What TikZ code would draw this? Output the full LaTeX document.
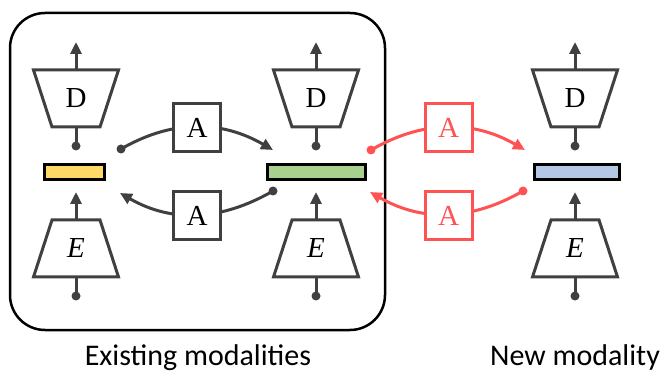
\documentclass[tikz,border=0pt]{standalone}
\usepackage{fontspec}
\newfontfamily\labelfont{Carlito}
\newfontfamily\letterfont{Liberation Serif}
\usetikzlibrary{arrows.meta}
\definecolor{ink}{RGB}{64,64,64}
\definecolor{adapt}{RGB}{255,82,82}
\definecolor{barY}{RGB}{255,217,102}
\definecolor{barG}{RGB}{169,209,142}
\definecolor{barB}{RGB}{180,199,231}
\begin{document}
\begin{tikzpicture}[x=1pt,y=1pt,
  part/.style={draw=ink, line width=3pt, line join=miter, fill=white},
  letter/.style={font=\letterfont\fontsize{29}{30}\selectfont, inner sep=0pt},
  stem/.style={draw=ink, line width=3pt},
  upto/.style={stem, -{Triangle[length=12pt,width=11pt]}},
  dot/.style={circle, fill=#1, inner sep=0pt, minimum size=9pt},
  dot/.default=ink,
  bar/.style={draw=black, line width=3pt, minimum width=#1, minimum height=15pt, inner sep=0pt},
  abox/.style 2 args={draw=#1, text=#2, line width=3pt, fill=white, minimum width=47pt, minimum height=48pt, inner sep=0pt, font=\letterfont\fontsize{29}{30}\selectfont},
  link/.style={draw=#1, line width=3pt, -{Triangle[length=12pt,width=11pt]}},
  caption/.style={font=\labelfont\fontsize{30}{36}\selectfont, inner sep=0pt, anchor=base}]
\useasboundingbox (0,0) rectangle (663,372);

% frame around the existing modalities
\draw[black, line width=2.5pt, rounded corners=35pt] (10,42) rectangle (385,359);

% decoder above and encoder below each latent
\foreach \c/\n in {76/l,316/m,575/r}{
  \draw[part] (\c-42.5,302) -- (\c+42.5,302) -- (\c+24,245) -- (\c-24,245) -- cycle;
  \draw[part] (\c-24,152) -- (\c+24,152) -- (\c+42.5,95) -- (\c-42.5,95) -- cycle;
  \node[letter] (D\n) at (\c,273.5) {D};
  \node[letter] (E\n) at (\c,123.5) {\itshape E};
  \coordinate (Dt\n) at (\c,302);
  \coordinate (Do\n) at (\c,330);
  \coordinate (Db\n) at (\c,245);
  \node[dot] (Di\n) at (\c,226) {};
  \coordinate (Et\n) at (\c,152);
  \coordinate (Eo\n) at (\c,180);
  \coordinate (Eb\n) at (\c,95);
  \node[dot] (Ei\n) at (\c,76) {};
  \draw[upto] (Dt\n) -- (Do\n);
  \draw[stem] (Db\n) -- (Di\n.center);
  \draw[upto] (Et\n) -- (Eo\n);
  \draw[stem] (Eb\n) -- (Ei\n.center);
}

% latent codes
\node[bar=60pt, fill=barY] (zl) at (74.5,200) {};
\node[bar=98pt, fill=barG] (zm) at (316.5,200) {};
\node[bar=85pt, fill=barB] (zr) at (577,200) {};

% adapters between latents
\node[dot] (p1) at (121,223) {};
\coordinate (q1) at (273,222);
\node[dot] (p2) at (273,181) {};
\coordinate (q2) at (120,179);
\node[dot=adapt] (p3) at (371,222) {};
\coordinate (q3) at (525,222);
\node[dot=adapt] (p4) at (523,181) {};
\coordinate (q4) at (370,180);

\draw[link=ink] (p1.center) to[out=30,in=150] (q1);
\draw[link=ink] (p2.center) to[out=-150,in=-30] (q2);
\draw[link=adapt] (p3.center) to[out=30,in=150] (q3);
\draw[link=adapt] (p4.center) to[out=-150,in=-30] (q4);

\node[abox={ink}{black}] (a1) at (197,244.5) {A};
\node[abox={ink}{black}] (a2) at (197,156.5) {A};
\node[abox={adapt}{adapt}] (a3) at (448.5,244.5) {A};
\node[abox={adapt}{adapt}] (a4) at (448.5,156.5) {A};

% captions
\node[caption] (c1) at (198,7) {Existing modalities};
\node[caption] (c2) at (575,7) {New modality};
\end{tikzpicture}
\end{document}
